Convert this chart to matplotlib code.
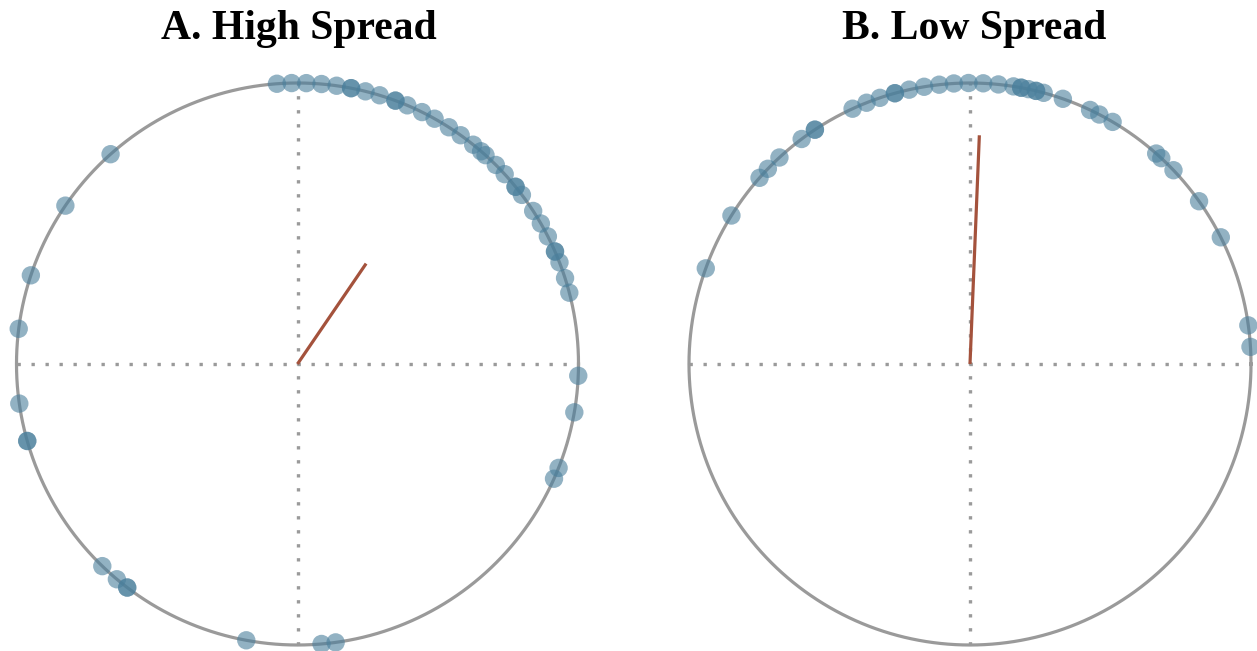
import numpy as np
import matplotlib
matplotlib.use("Agg")
import matplotlib.pyplot as plt

# Phase angles (degrees, counter-clockwise from the positive x-axis)
high_spread_deg = [
    94.2, 91.2, 88.2, 85.1, 82.0, 79.0, 79.0, 76.0, 73.0, 69.6, 69.6, 67.0,
    63.7, 60.8, 57.4, 54.5, 51.3, 49.2, 48.0, 45.1, 42.5, 39.1, 39.1, 37.0,
    33.0, 30.0, 27.0, 23.6, 23.6, 21.2, 17.8, 14.7, -2.4, -9.9, -21.7, -24.1,
    259.5, 274.9, 277.8, 226.0, 230.0, 232.7, 232.7, 195.9, 195.9, 188.1,
    172.8, 161.6, 145.7, 131.7,
]
low_spread_deg = [
    160.1, 148.1, 138.5, 136.0, 132.7, 126.8, 123.5, 123.5, 114.7, 111.6,
    108.7, 105.5, 105.5, 102.5, 99.4, 96.3, 93.3, 90.3, 87.3, 84.2, 81.1,
    79.5, 79.5, 78.0, 76.4, 76.4, 74.8, 70.7, 64.7, 62.6, 59.5, 48.5, 47.1,
    43.6, 35.4, 26.8, 7.9, 3.5,
]
panel_titles = ["A. High Spread", "B. Low Spread"]

W, H = 1257, 651
fig = plt.figure(figsize=(W / 100, H / 100), dpi=100)

R_PX = 281.0          # radius of the unit circle in pixels
LIM = 1.1
SIDE = 2 * LIM * R_PX
centers_px = [(297.5, 287.0), (970.0, 287.0)]   # (x, y from bottom)
title_x_px = [298.5, 974.5]

circle_color = "#9a9a9a"
point_color = "#4a7f9c"
vector_color = "#a4523c"

for angles, title, (cx, cy), tx in zip(
        [high_spread_deg, low_spread_deg], panel_titles, centers_px, title_x_px):
    ax = fig.add_axes([(cx - SIDE / 2) / W, (cy - SIDE / 2) / H, SIDE / W, SIDE / H])
    ax.set_xlim(-LIM, LIM)
    ax.set_ylim(-LIM, LIM)
    ax.set_aspect("equal")
    ax.axis("off")

    # reference axes through the centre
    dot = dict(color=circle_color, lw=2.4, linestyle=(0, (1, 3.2)), zorder=1)
    ax.plot([-1, 1], [0, 0], **dot)
    ax.plot([0, 0], [-1, 1], **dot)

    # unit circle
    t = np.linspace(0, 2 * np.pi, 721)
    ax.plot(np.cos(t), np.sin(t), color=circle_color, lw=2.3, zorder=2)

    # observations on the circle
    th = np.deg2rad(np.asarray(angles))
    px, py = np.cos(th), np.sin(th)
    ax.scatter(px, py, s=175, color=point_color, alpha=0.6,
               edgecolors="none", zorder=3, clip_on=False)

    # mean resultant vector
    mx, my = px.mean(), py.mean()
    ax.plot([0, mx], [0, my], color=vector_color, lw=2.3,
            solid_capstyle="butt", zorder=4)

    fig.text(tx / W, 1 - 29 / H, title, ha="center", va="center",
             fontsize=30, fontweight="bold", family="Liberation Serif")

fig.savefig("out.png", dpi=100)
